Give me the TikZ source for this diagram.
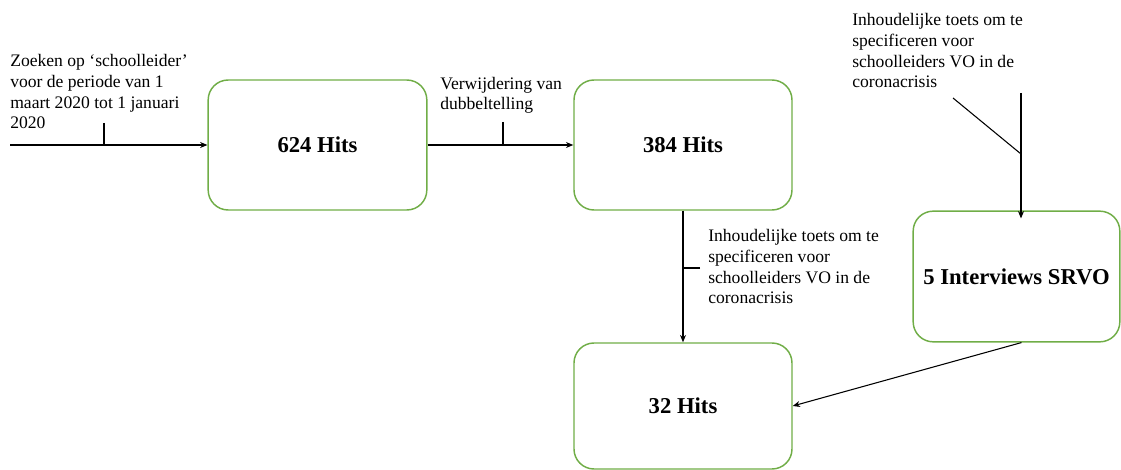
\documentclass[tikz,border=0pt]{standalone}
\usepackage{fontspec}
\setmainfont{Liberation Serif}
\usetikzlibrary{arrows.meta,calc}
\definecolor{boxgreen}{RGB}{112,173,71}
\begin{document}
\begin{tikzpicture}[x=0.75pt,y=-0.75pt,
  hitbox/.style={draw=boxgreen, line width=1.1pt, rounded corners=15pt,
    inner sep=0pt, font=\fontsize{17}{20}\selectfont\bfseries},
  % notes are placed by the baseline of their last line
  note/.style={anchor=base west, align=left, inner sep=0pt,
    font=\fontsize{13.2}{15.6}\selectfont},
  flow/.style={draw=black, line width=0.8pt, -{Stealth[length=5.5pt,width=4.5pt]}},
  tick/.style={draw=black, line width=0.8pt}]
\useasboundingbox (0,0) rectangle (1121,470);

% result boxes
\node[hitbox, minimum width=164pt, minimum height=97.5pt] (b1) at (317.5,145) {624 Hits};
\node[hitbox, minimum width=163.5pt, minimum height=97.5pt] (b2) at (683,145) {384 Hits};
\node[hitbox, minimum width=163.5pt, minimum height=94.5pt] (b3) at (683,406) {32 Hits};
\node[hitbox, minimum width=155pt, minimum height=98pt] (b4) at (1016.5,276.5) {5 Interviews SRVO};

% step descriptions
\node[note] (n1) at (10,129) {Zoeken op ‘schoolleider’\\voor de periode van 1\\maart 2020 tot 1 januari\\2020};
\node[note] (n2) at (440,110) {Verwijdering van\\dubbeltelling};
\node[note] (n3) at (708,304) {Inhoudelijke toets om te\\specificeren voor\\schoolleiders VO in de\\coronacrisis};
\node[note] (n4) at (852,88) {Inhoudelijke toets om te\\specificeren voor\\schoolleiders VO in de\\coronacrisis};

% search -> 624 hits
\coordinate (s1) at (10,145);
\coordinate (k1) at (104,123);
\draw[flow] (s1) -- (b1.west);
\draw[tick] (k1) -- (k1 |- s1);

% 624 hits -> 384 hits
\coordinate (k2) at (503,122);
\draw[flow] (b1.east) -- (b2.west);
\draw[tick] (k2) -- (k2 |- b1.east);

% 384 hits -> 32 hits
\coordinate (k3) at (700,268);
\draw[flow] (b2.south) -- (b3.north);
\draw[tick] (k3) -- (k3 -| b2.south);

% check -> interviews
\coordinate (s4) at (1021,93);
\coordinate (d4) at (953,98);
\coordinate (j4) at (1021,154);
\draw[flow] (s4) -- ($(s4 |- b4.north)+(0,8)$);
\draw[tick] (d4) -- (j4);

% interviews -> 32 hits
\draw[flow] ($(b4.south)+(5,0)$) -- (b3.east);
\end{tikzpicture}
\end{document}
